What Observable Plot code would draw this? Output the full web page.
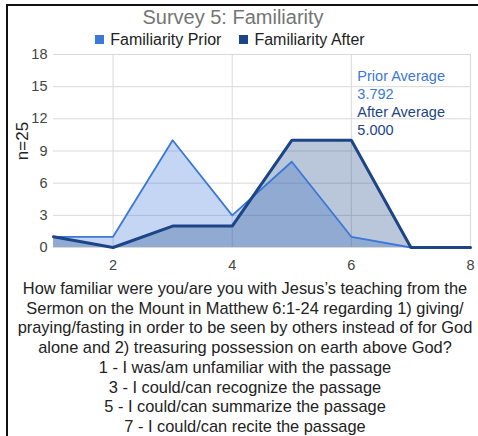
<!DOCTYPE html>
<html>
<head>
<meta charset="utf-8">
<script src="https://cdn.jsdelivr.net/npm/d3@7"></script>
<script src="https://cdn.jsdelivr.net/npm/@observablehq/plot@0.6"></script>
<style>
  html, body { margin: 0; padding: 0; background: #fff; }
  body { width: 478px; height: 436px; position: relative; overflow: hidden; font-family: "Liberation Sans", Arial, sans-serif; }
  #frame { position: absolute; left: 6px; top: 4px; width: 470px; height: 440px; border-top: 2px solid #111; border-left: 2px solid #111; }
  #title { position: absolute; left: 0; width: 466px; top: 6px; text-align: center; font-size: 20px; color: #757575; }
  #legend { position: absolute; left: 0; width: 460px; top: 31px; text-align: center; font-size: 16px; color: #222; }
  #legend span.sw { display: inline-block; width: 9px; height: 9px; margin-right: 6px; vertical-align: 1px; }
  #legend span.item { margin: 0 9px; }
  #chart { position: absolute; left: 0; top: 46px; }
  #ylabel { position: absolute; left: 23px; top: 141px; transform: translate(-50%, -50%) rotate(-90deg); font-size: 17px; color: #222; white-space: nowrap; }
  #caption { position: absolute; left: 6px; width: 478px; top: 279px; display: flex; flex-direction: column; align-items: center; font-size: 16.4px; line-height: 19.7px; color: #222; white-space: nowrap; }
</style>
</head>
<body>
<div id="frame"></div>
<div id="title"></div>
<div id="legend"></div>
<div id="chart"></div>
<div id="ylabel"></div>
<div id="caption"></div>
<script>
const titleText = "Survey 5: Familiarity";
const seriesNames = ["Familiarity Prior", "Familiarity After"];
const seriesColors = ["#3c78d8", "#1c4587"];
const xValues = [1, 2, 3, 4, 5, 6, 7, 8];
const priorValues = [1, 1, 10, 3, 8, 1, 0, 0];
const afterValues = [1, 0, 2, 2, 10, 10, 0, 0];
const xTicks = [2, 4, 6, 8];
const yTicks = [0, 3, 6, 9, 12, 15, 18];
const yLabel = "n=25";
const priorAverageLines = ["Prior Average", "3.792"];
const afterAverageLines = ["After Average", "5.000"];
const captionLines = [
  "How familiar were you/are you with Jesus\u2019s teaching from the",
  "Sermon on the Mount in Matthew 6:1-24 regarding 1) giving/",
  "praying/fasting in order to be seen by others instead of for God",
  "alone and 2) treasuring possession on earth above God?",
  "1 - I was/am unfamiliar with the passage",
  "3 - I could/can recognize the passage",
  "5 - I could/can summarize the passage",
  "7 - I could/can recite the passage"
];

document.getElementById("title").textContent = titleText;
document.getElementById("ylabel").textContent = yLabel;
const legend = document.getElementById("legend");
seriesNames.forEach((n, i) => {
  const item = document.createElement("span");
  item.className = "item";
  const sw = document.createElement("span");
  sw.className = "sw";
  sw.style.background = seriesColors[i];
  item.appendChild(sw);
  item.appendChild(document.createTextNode(n));
  legend.appendChild(item);
});
const cap = document.getElementById("caption");
captionLines.forEach(l => { const d = document.createElement("div"); d.textContent = l; cap.appendChild(d); });

const rows = [];
xValues.forEach((x, i) => rows.push({x, v: priorValues[i], s: seriesNames[0]}));
xValues.forEach((x, i) => rows.push({x, v: afterValues[i], s: seriesNames[1]}));
const prior = rows.filter(d => d.s === seriesNames[0]);
const after = rows.filter(d => d.s === seriesNames[1]);

const plot = Plot.plot({
  width: 478,
  height: 232,
  marginTop: 8,
  marginBottom: 31,
  marginLeft: 53,
  marginRight: 8,
  x: {domain: [1, 8]},
  y: {domain: [0, 18]},
  style: {fontFamily: "'Liberation Sans', Arial, sans-serif", fontSize: "14px", color: "#444", background: "transparent"},
  marks: [
    Plot.gridY(yTicks, {stroke: "#d9d9d9", strokeOpacity: 1}),
    Plot.gridX(xTicks, {stroke: "#d9d9d9", strokeOpacity: 1}),
    Plot.areaY(prior, {x: "x", y: "v", fill: seriesColors[0], fillOpacity: 0.3}),
    Plot.areaY(after, {x: "x", y: "v", fill: seriesColors[1], fillOpacity: 0.3}),
    Plot.lineY(prior, {x: "x", y: "v", stroke: seriesColors[0], strokeWidth: 1.8}),
    Plot.lineY(after, {x: "x", y: "v", stroke: seriesColors[1], strokeWidth: 3, strokeLinejoin: "miter"}),
    Plot.axisY(yTicks, {tickSize: 0, tickPadding: 6, label: null, fill: "#444", fontSize: 14.5}),
    Plot.axisX(xTicks, {tickSize: 0, tickPadding: 12, label: null, fill: "#444", fontSize: 14.5}),
    Plot.text([{x: 6, t: priorAverageLines.join("\n")}], {x: "x", text: "t", frameAnchor: "top", textAnchor: "start", lineAnchor: "top", dx: 6, dy: 14, lineHeight: 1.24, fontSize: 14.5, fill: seriesColors[0]}),
    Plot.text([{x: 6, t: afterAverageLines.join("\n")}], {x: "x", text: "t", frameAnchor: "top", textAnchor: "start", lineAnchor: "top", dx: 6, dy: 50, lineHeight: 1.24, fontSize: 14.5, fill: seriesColors[1]})
  ]
});
document.getElementById("chart").appendChild(plot);
</script>
</body>
</html>
